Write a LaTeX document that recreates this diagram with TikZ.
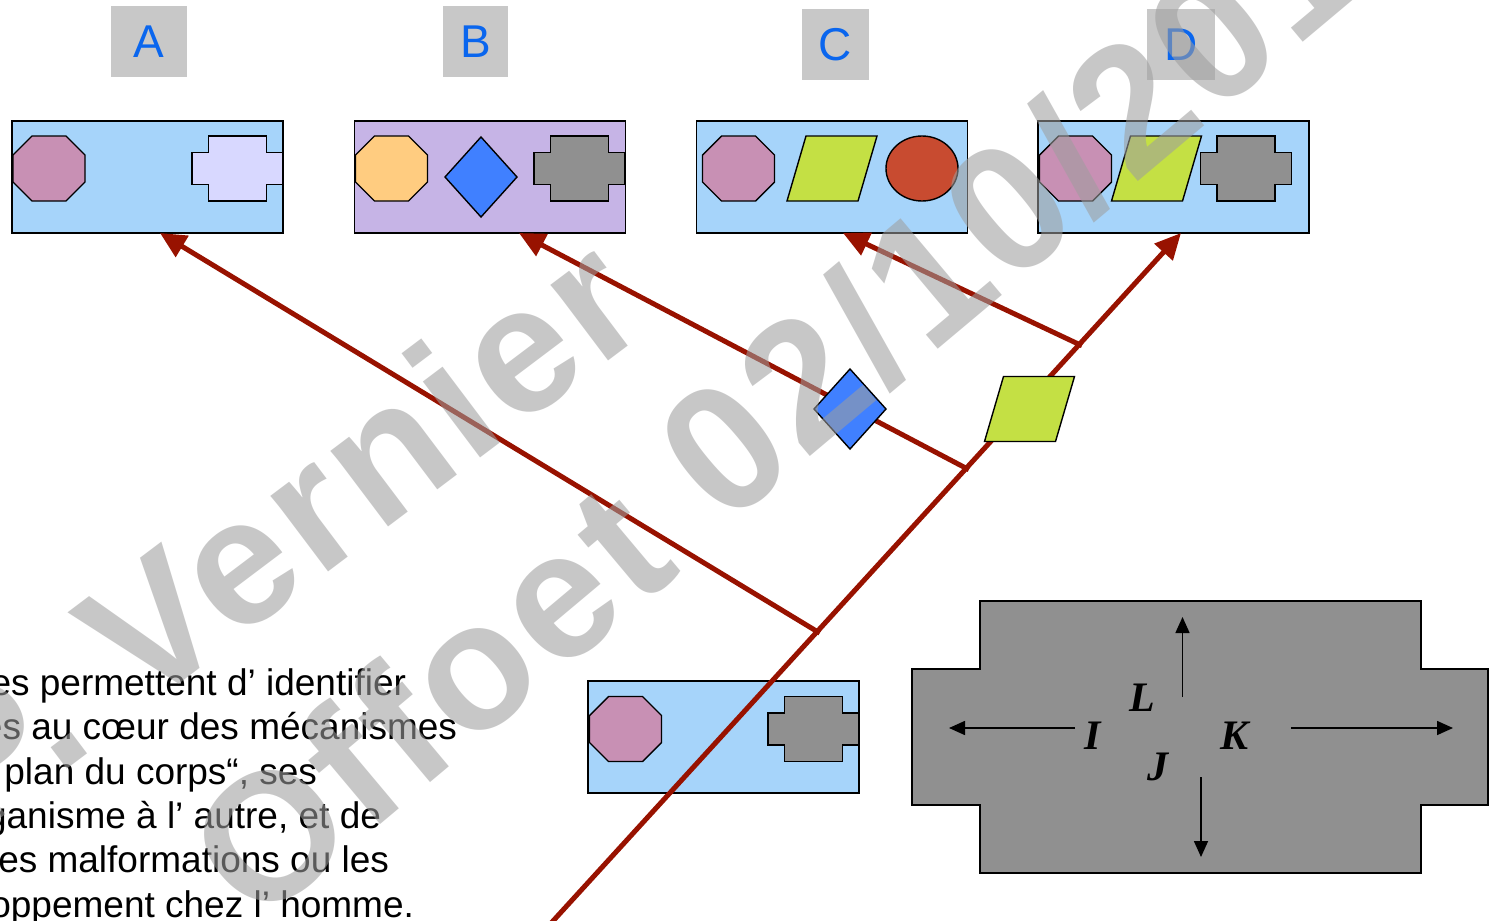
\documentclass[tikz,border=0pt]{standalone}
\usepackage{fontspec}
\setmainfont{Liberation Sans}
\newfontfamily\serifbi{Liberation Serif}
\newfontfamily\wmfont[LetterSpace=3]{Liberation Sans}
\usetikzlibrary{arrows.meta,calc}
\definecolor{boxblue}{HTML}{A6D4FA}
\definecolor{boxpurple}{HTML}{C6B4E6}
\definecolor{mauve}{HTML}{C890B4}
\definecolor{orangey}{HTML}{FFCC80}
\definecolor{dblue}{HTML}{4080FF}
\definecolor{lavender}{HTML}{D8D8FF}
\definecolor{grayc}{HTML}{909090}
\definecolor{greeny}{HTML}{C4E044}
\definecolor{redov}{HTML}{C84B30}
\definecolor{branch}{HTML}{981200}
\definecolor{labgray}{HTML}{C8C8C8}
\definecolor{labblue}{HTML}{0A66EE}
\definecolor{wmgray}{HTML}{9E9E9E}
\tikzset{
  every node/.style={inner sep=0pt, outer sep=0pt},
  shapebox/.style={draw=black, line width=1.5pt, minimum width=271pt, minimum height=112pt},
  labbox/.style={fill=labgray, text=labblue, minimum height=71pt, font=\fontsize{46}{46}\selectfont},
  shp/.style={draw=black, line width=1.4pt},
  redarrow/.style={draw=branch, line width=5pt, -{Triangle[length=26pt,width=24pt]}},
  blackarrow/.style={draw=black, line width=1.6pt, -{Triangle[length=16pt,width=14pt]}},
  axislabel/.style={anchor=base, font=\serifbi\bfseries\itshape\fontsize{42}{42}\selectfont},
  bodytext/.style={anchor=base east, font=\fontsize{37}{44}\selectfont},
  watermark/.style={text=wmgray, text opacity=0.57, font=\wmfont\bfseries\fontsize{180}{180}\selectfont},
  octo/.pic={\path[shp,pic actions] (-36,-13.5) -- (-17,-32.5) -- (17,-32.5) -- (36,-13.5) -- (36,13.5) -- (17,32.5) -- (-17,32.5) -- (-36,13.5) -- cycle;},
  crossshape/.pic={\path[shp,pic actions] (-29,-32.5) -- (29,-32.5) -- (29,-16) -- (45.5,-16) -- (45.5,16) -- (29,16) -- (29,32.5) -- (-29,32.5) -- (-29,16) -- (-45.5,16) -- (-45.5,-16) -- (-29,-16) -- cycle;},
  para/.pic={\path[shp,pic actions] (-26,-32.5) -- (45,-32.5) -- (26,32.5) -- (-45,32.5) -- cycle;},
  dia/.pic={\path[shp,pic actions] (0,-40) -- (36,0) -- (0,40) -- (-36,0) -- cycle;},
}
\begin{document}
\begin{tikzpicture}[x=1pt,y=-1pt]
\useasboundingbox (0,0) rectangle (1489,921);
\clip (0,0) rectangle (1489,921);
\fill[white] (0,0) rectangle (1489,921);

% labels
\node[labbox, minimum width=76pt] (labA) at (148.5,41.5) {A};
\node[labbox, minimum width=65pt] (labB) at (475.5,41.5) {B};
\node[labbox, minimum width=67pt] (labC) at (835.5,44.5) {C};
\node[labbox, minimum width=68pt] (labD) at (1181,44.5) {D};

% boxes
\node[shapebox, fill=boxblue] (boxA) at (147.5,177) {};
\node[shapebox, fill=boxpurple] (boxB) at (490,177) {};
\node[shapebox, fill=boxblue] (boxC) at (832,177) {};
\node[shapebox, fill=boxblue] (boxD) at (1173.5,177) {};
\node[shapebox, fill=boxblue] (boxE) at (723.5,737) {};

% contents
\pic[fill=mauve] at (49,168.5) {octo};
\pic[fill=lavender] at (237.5,168.5) {crossshape};
\pic[fill=orangey] at (391.5,168.5) {octo};
\pic[fill=dblue] at (481,177) {dia};
\pic[fill=grayc] at (579.5,168.5) {crossshape};
\pic[fill=mauve] at (738.5,168.5) {octo};
\pic[fill=greeny] at (832,168.5) {para};
\draw[shp, fill=redov] (922,168.5) ellipse [x radius=36, y radius=32.5];
\pic[fill=mauve] at (1075.5,168.5) {octo};
\pic[fill=greeny] at (1156.5,168.5) {para};
\pic[fill=grayc] at (1246,168.5) {crossshape};
\pic[fill=mauve] at (625.5,729) {octo};
\pic[fill=grayc] at (813.5,729) {crossshape};

% tree
\coordinate (base) at (553,921);
\coordinate (tipA) at ([xshift=12.5pt]boxA.south);
\coordinate (tipB) at ([xshift=29pt]boxB.south);
\coordinate (tipC) at ([xshift=11pt]boxC.south);
\coordinate (tipD) at ([xshift=7.5pt]boxD.south);
\coordinate (root) at ($(base)!-0.03!(tipD)$);
\coordinate (jA) at ($(base)!0.4207!(tipD)$);
\coordinate (jB) at ($(base)!0.658!(tipD)$);
\coordinate (jC) at ($(base)!0.838!(tipD)$);
\draw[redarrow] (root) -- (tipD);
\draw[redarrow] ($(jA)!-3pt!(tipA)$) -- (tipA);
\draw[redarrow] ($(jB)!-3pt!(tipB)$) -- (tipB);
\draw[redarrow] ($(jC)!-3pt!(tipC)$) -- (tipC);
\pic[fill=dblue] at (850,409) {dia};
\pic[fill=greeny] at (1029.5,409) {para};

% big cross
\draw[fill=grayc, line width=2pt] (980,601) -- (1421,601) -- (1421,669) -- (1487.5,669) -- (1487.5,805) -- (1421,805) -- (1421,873) -- (980,873) -- (980,805) -- (912,805) -- (912,669) -- (980,669) -- cycle;
\node[axislabel] (L) at (1142,711) {L};
\node[axislabel] (I) at (1093,749) {I};
\node[axislabel] (K) at (1234,749) {K};
\node[axislabel] (J) at (1158,780) {J};
\coordinate (upS) at (1182.5,697); \coordinate (upE) at (1182.5,617);
\coordinate (dnS) at (1201,777); \coordinate (dnE) at (1201,857);
\coordinate (lfS) at (1075,728); \coordinate (lfE) at (949,728);
\coordinate (rtS) at (1291,728); \coordinate (rtE) at (1453,728);
\draw[blackarrow] (upS) -- (upE);
\draw[blackarrow] (dnS) -- (dnE);
\draw[blackarrow] (lfS) -- (lfE);
\draw[blackarrow] (rtS) -- (rtE);

% body text
\node[bodytext] (t1) at (406,695) {es permettent d’ identifier};
\node[bodytext] (t2) at (457,739.5) {es au cœur des mécanismes};
\node[bodytext] (t3) at (317,784) {plan du corps“, ses};
\node[bodytext] (t4) at (381,828) {ganisme à l’ autre, et de};
\node[bodytext] (t5) at (389,872.5) {es malformations ou les};
\node[bodytext] (t6) at (414,917) {oppement chez l’ homme.};

% watermark
\node[watermark, anchor=base east, rotate=37] (wm1) at (655,326) {P. Vernier};
\node[watermark, anchor=base east, rotate=40] (wm2) at (683,571) {Offoet};
\node[watermark, anchor=base west, rotate=40] (wm3) at (725,528) {02/10/201};
\end{tikzpicture}
\end{document}
